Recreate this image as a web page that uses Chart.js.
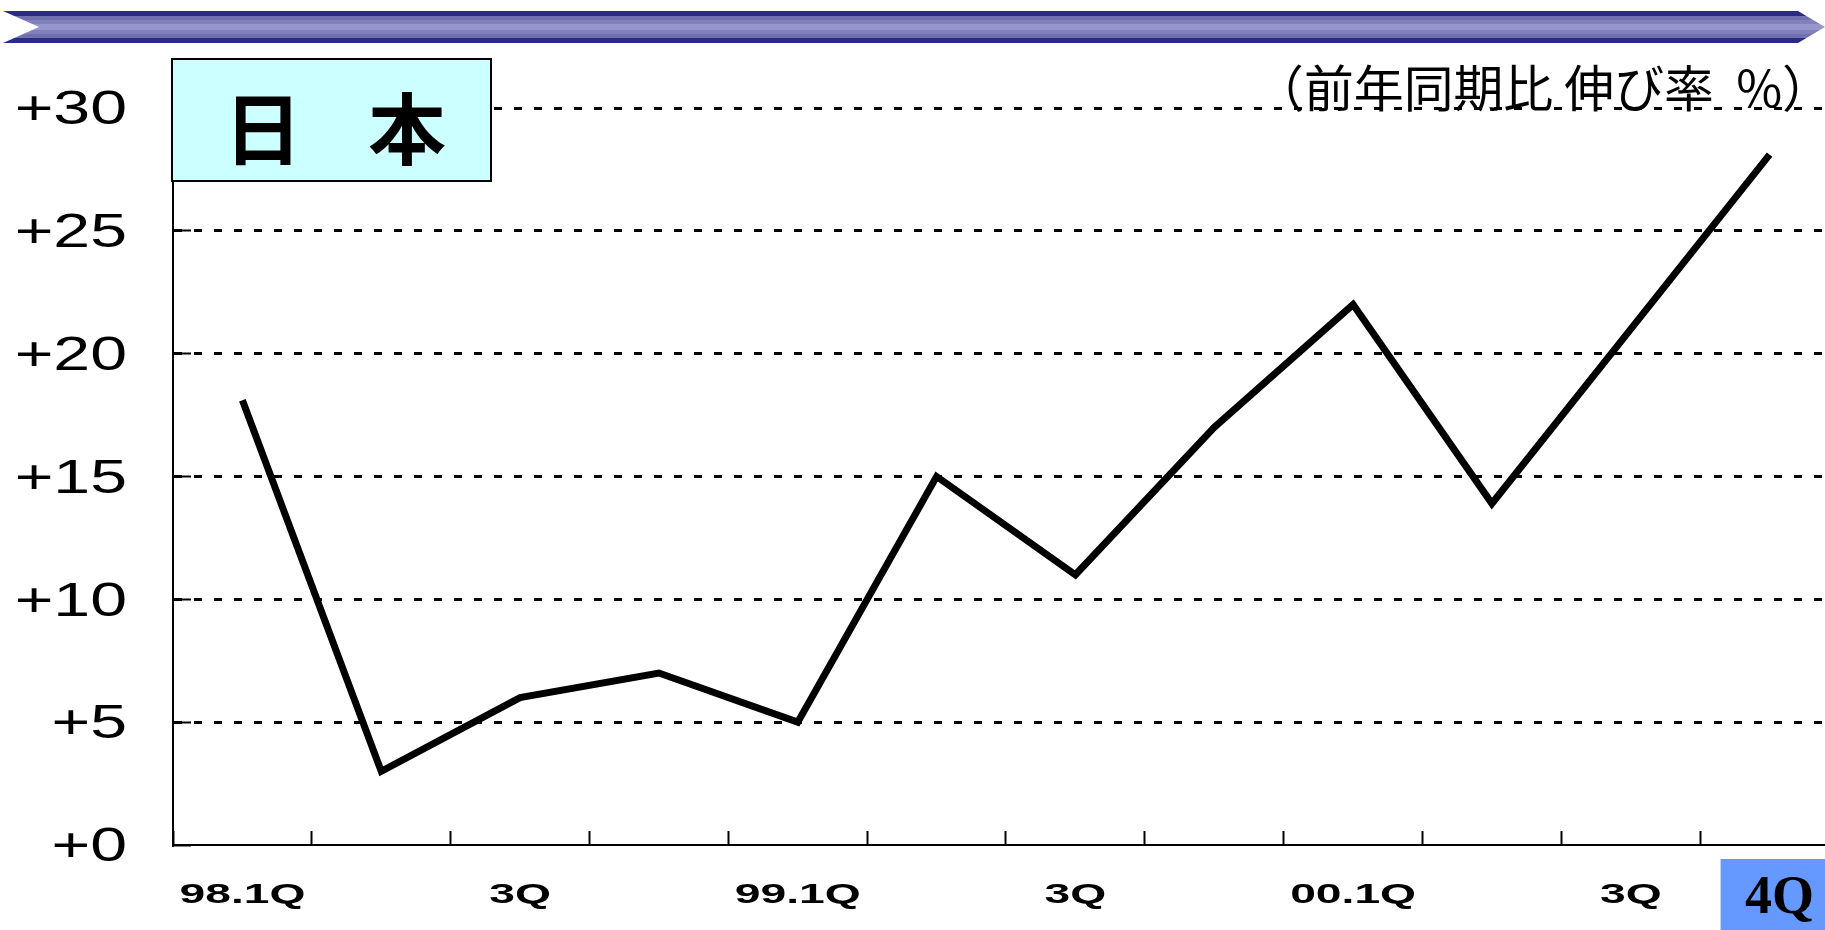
<!DOCTYPE html>
<html lang="ja">
<head>
<meta charset="utf-8">
<title>日本 前年同期比 伸び率</title>
<script src="https://cdn.jsdelivr.net/npm/chart.js@4.4.1/dist/chart.umd.min.js"></script>
<style>
  html, body { margin: 0; padding: 0; background: #fff; overflow: hidden; }
  #wrap { position: relative; width: 1825px; height: 930px; overflow: hidden; }
  canvas { display: block; }
</style>
</head>
<body>
<div id="wrap"><canvas id="chart" width="1840" height="930"></canvas></div>
<script>
const quarters = ['98.1Q', '2Q', '3Q', '4Q', '99.1Q', '2Q', '3Q', '4Q', '00.1Q', '2Q', '3Q', '4Q'];
const tickLabels = ['98.1Q', '', '3Q', '', '99.1Q', '', '3Q', '', '00.1Q', '', '3Q', '4Q'];
const growth = [18.1, 3, 6, 7, 5, 15, 11, 17, 22, 13.9, 21, 28.1];
const yTicks = [0, 5, 10, 15, 20, 25, 30];
const highlightIndex = 11;
const panelTitle = ['日', '本'];
const unitNote = '（前年同期比 伸び率  %）';

const W = 1825;

// the source chart draws its tick labels wide; stretch them around their anchor
function stretchLabels(scale, sx) {
  if (!scale || scale._stretched) return;
  scale._stretched = true;
  const draw = scale.drawLabels;
  scale.drawLabels = function (area) {
    const ctx = this.ctx;
    const fill = ctx.fillText;
    ctx.fillText = function (text, x, y, w) {
      const hl = this === ctx && text === tickLabels[highlightIndex] && scale.axis === 'x';
      const k = hl ? 1 : sx;
      this.save();
      this.translate(hl ? 10 : 0, 0);
      this.scale(k, 1);
      fill.call(this, text, x / k, y, w === undefined ? undefined : w / k);
      this.restore();
    };
    draw.call(this, area);
    delete ctx.fillText;
  };
}

function drawBanner(ctx) {
  const top = 11, bot = 43, mid = 27;
  ctx.beginPath();
  ctx.moveTo(3, top);
  ctx.lineTo(1798, top);
  ctx.lineTo(W, mid);
  ctx.lineTo(1798, bot);
  ctx.lineTo(3, bot);
  ctx.lineTo(39, mid);
  ctx.closePath();
  const g = ctx.createLinearGradient(0, top, 0, bot);
  const stripes = [[0, '#2b2b87'], [0.16, '#7070ae'], [0.27, '#8080bb'], [0.42, '#9696cc'],
                   [0.58, '#8080bb'], [0.73, '#7070ae'], [0.84, '#2b2b87'], [1, '#2b2b87']];
  for (let i = 0; i < stripes.length - 1; i++) {
    g.addColorStop(stripes[i][0], stripes[i][1]);
    g.addColorStop(stripes[i + 1][0] - 0.0001, stripes[i][1]);
  }
  g.addColorStop(1, stripes[stripes.length - 1][1]);
  ctx.fillStyle = g;
  ctx.fill();
}

const decor = {
  id: 'decor',
  afterUpdate(chart) {
    stretchLabels(chart.scales.x, 1.65);
    stretchLabels(chart.scales.y, 1.38);
  },
  beforeDraw(chart) {
    const ctx = chart.ctx;
    ctx.save();
    ctx.fillStyle = '#fff';
    ctx.fillRect(0, 0, chart.width, chart.height);
    drawBanner(ctx);
    // highlighted last quarter under its label
    const cx = chart.scales.x.getPixelForValue(highlightIndex);
    ctx.fillStyle = '#6699ff';
    ctx.fillRect(cx - 49, 859, chart.width, chart.height);
    ctx.restore();
  },
  afterDraw(chart) {
    const ctx = chart.ctx;
    ctx.save();
    // title panel
    ctx.fillStyle = '#ccffff';
    ctx.fillRect(172, 59, 319, 122);
    ctx.strokeStyle = '#000';
    ctx.lineWidth = 2;
    ctx.strokeRect(172, 59, 319, 122);
    ctx.fillStyle = '#000';
    ctx.font = 'bold 78px "Noto Sans CJK JP"';
    ctx.textAlign = 'center';
    ctx.textBaseline = 'middle';
    ctx.fillText(panelTitle[0], 263, 129);
    ctx.fillText(panelTitle[1], 407, 129);
    // unit note, fitted to its ink box
    ctx.font = '50px "Noto Sans CJK JP"';
    ctx.textAlign = 'left';
    ctx.textBaseline = 'alphabetic';
    const m = ctx.measureText(unitNote);
    const ink = m.actualBoundingBoxLeft + m.actualBoundingBoxRight;
    const k = 510 / ink;
    ctx.translate(1288 + m.actualBoundingBoxLeft * k, 64 + m.actualBoundingBoxAscent);
    ctx.scale(k, 1);
    ctx.fillText(unitNote, 0, 0);
    ctx.restore();
  }
};

new Chart(document.getElementById('chart'), {
  type: 'line',
  data: {
    labels: quarters,
    datasets: [{ data: growth, borderColor: '#000', borderWidth: 7, pointRadius: 0, tension: 0, fill: false }]
  },
  options: {
    responsive: false,
    animation: false,
    layout: { padding: { top: 108, right: 1, left: 0, bottom: 0 } },
    plugins: { legend: { display: false }, tooltip: { enabled: false } },
    scales: {
      x: {
        offset: true,
        grid: { offset: true, drawOnChartArea: false, drawTicks: true, tickLength: -14, tickColor: '#000', tickWidth: 2 },
        border: { display: true, color: '#000', width: 2 },
        ticks: {
          autoSkip: false, maxRotation: 0, minRotation: 0, padding: 48, color: '#000',
          font: c => c.index === highlightIndex
            ? { family: '"Liberation Serif", serif', size: 54, weight: 'bold', lineHeight: '41px' }
            : { family: '"Liberation Sans", Arial, sans-serif', size: 28, weight: 'bold', lineHeight: '32px' },
          callback: (v, i) => tickLabels[i]
        },
        afterFit: s => { s.height = 85; s.paddingLeft = 0; s.paddingRight = 0; }
      },
      y: {
        min: 0, max: 30,
        afterBuildTicks: s => { s.ticks = yTicks.map(v => ({ value: v })); },
        grid: {
          color: c => (c.tick && c.tick.value === 0 ? 'rgba(0,0,0,0)' : '#000'),
          lineWidth: 3, drawTicks: true, tickLength: -18, tickColor: '#000', tickWidth: 2
        },
        border: { display: true, color: '#000', width: 2, dash: [8, 12] },
        ticks: {
          padding: 64, labelOffset: 3, color: '#000',
          font: { family: '"Liberation Sans", Arial, sans-serif', size: 48 },
          callback: v => '+' + v
        },
        afterFit: s => { s.width = 173; s.paddingTop = 0; s.paddingBottom = 0; }
      }
    }
  },
  plugins: [decor]
});
</script>
</body>
</html>
